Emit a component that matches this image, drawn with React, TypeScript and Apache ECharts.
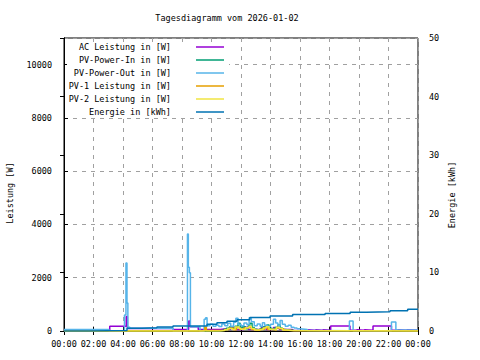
import React, { useEffect, useRef } from "react";
import * as echarts from "echarts";

const titleText = "Tagesdiagramm vom 2026-01-02";
const leftAxisName = "Leistung [W]";
const rightAxisName = "Energie [kWh]";
const seriesNames = [
  "AC Leistung in [W]",
  "PV-Power-In in [W]",
  "PV-Power-Out in [W]",
  "PV-1 Leistung in [W]",
  "PV-2 Leistung in [W]",
  "Energie in [kWh]",
];
const seriesColors = ["#9400d3", "#009e73", "#56b4e9", "#e69f00", "#f0e442", "#0072b2"];

// [hour, W]
const acPower: [number, number][] = [
  [0, 30], [0.4, 45], [0.5, 30], [0.9, 45], [1.0, 30], [1.4, 45], [1.5, 30], [1.9, 45], [2.0, 30],
  [2.4, 45], [2.5, 30], [3.1, 180], [4.15, 180], [4.22, 540], [4.3, 90], [7.4, 60],
  [8.45, 375], [8.55, 160], [9.1, 60], [10.0, 60], [10.6, 80], [11.0, 60], [11.3, 150], [11.5, 60],
  [12.2, 140], [12.5, 60], [13.4, 150], [13.7, 60], [14.2, 130], [14.6, 60], [15.5, 20],
  [16.0, 30], [16.5, 45], [16.6, 30], [17.0, 45], [17.1, 30], [17.5, 45], [17.6, 30],
  [18.08, 185], [19.39, 30], [19.8, 45], [19.9, 30], [20.3, 45], [20.4, 30],
  [20.95, 185], [22.2, 30], [22.6, 45], [22.7, 30], [23.2, 45], [23.3, 30], [24, 30],
];

const pvPowerIn: [number, number][] = [
  [0, 0], [10.5, 20], [10.8, 60], [11.0, 100], [11.2, 150], [11.4, 90], [11.6, 180], [11.8, 290],
  [11.95, 120], [12.1, 160], [12.3, 80], [12.5, 200], [12.6, 290], [12.75, 130], [12.9, 70],
  [13.1, 40], [13.3, 90], [13.5, 150], [13.75, 225], [13.9, 100], [14.1, 60], [14.3, 130],
  [14.5, 225], [14.65, 110], [14.8, 60], [15.0, 40], [15.3, 20], [15.6, 0], [24, 0],
];

const pvPowerOut: [number, number][] = [
  [0, 60], [3.05, 0], [4.1, 600], [4.2, 2550], [4.27, 1050], [4.33, 140], [4.47, 100],
  [7.4, 0], [8.37, 3640], [8.43, 2390], [8.5, 2190], [8.57, 160], [9.22, 0],
  [9.5, 440], [9.6, 500], [9.7, 200], [9.9, 250], [10.1, 180], [10.3, 220], [10.5, 170],
  [10.7, 260], [10.9, 200], [11.1, 290], [11.3, 180], [11.5, 330], [11.65, 480], [11.8, 250],
  [12.0, 200], [12.2, 300], [12.4, 230], [12.55, 500], [12.7, 350], [12.9, 200], [13.1, 260],
  [13.3, 180], [13.45, 310], [13.6, 220], [13.8, 170], [14.0, 250], [14.2, 440], [14.35, 300],
  [14.5, 200], [14.65, 390], [14.8, 250], [15.0, 180], [15.2, 220], [15.4, 140], [15.6, 110],
  [15.8, 80], [16.0, 60], [16.5, 20], [17.0, 10], [19.35, 375], [19.6, 10],
  [22.2, 340], [22.5, 40], [24, 40],
];

const pv1Power: [number, number][] = [
  [0, 0], [9.3, 15], [9.55, 140], [9.65, 15], [10.5, 30], [10.9, 60], [11.2, 100], [11.5, 50],
  [11.7, 130], [11.9, 70], [12.2, 110], [12.5, 140], [12.7, 60], [13.0, 30], [13.3, 70],
  [13.6, 120], [13.8, 60], [14.1, 40], [14.4, 110], [14.6, 80], [14.9, 30], [15.3, 10],
  [15.6, 0], [24, 0],
];

const pv2Power: [number, number][] = [
  [0, 0], [10.6, 20], [10.9, 50], [11.1, 90], [11.4, 60], [11.6, 150], [11.85, 100], [12.0, 70],
  [12.3, 120], [12.55, 180], [12.7, 90], [12.9, 40], [13.2, 60], [13.5, 110], [13.7, 160],
  [13.9, 70], [14.2, 50], [14.4, 140], [14.6, 100], [14.8, 40], [15.1, 20], [15.4, 0], [24, 0],
];

// [hour, kWh]
const energy: [number, number][] = [
  [0, 0], [1.63, 0.1], [4.27, 0.45], [5.29, 0.55], [6.3, 0.7], [7.39, 0.85], [9.7, 1.15],
  [10.37, 1.4], [11.05, 1.65], [11.73, 1.9], [12.6, 2.3], [13.97, 2.55], [15.5, 2.8],
  [17.7, 3.0], [19.4, 3.2], [20.5, 3.3], [22.1, 3.45], [23.3, 3.7], [24, 3.7],
];

const seriesData = [acPower, pvPowerIn, pvPowerOut, pv1Power, pv2Power, energy];

const FONT = "'DejaVu Sans Mono', monospace";
const FS = 8.5;

export default function App() {
  const ref = useRef<HTMLDivElement>(null);
  useEffect(() => {
    if (!ref.current) return;
    const chart = echarts.init(ref.current, undefined, { renderer: "svg" });
    const gridColor = "#a0a0a0";
    const legendGraphics: any[] = [
      {
        type: "rect",
        z: 10,
        shape: { x: 67, y: 42, width: 162, height: 76 },
        style: { fill: "#fff" },
      },
    ];
    seriesNames.forEach((n, i) => {
      const y = 47 + i * 13;
      legendGraphics.push({
        type: "text",
        z: 11,
        x: 171,
        y,
        style: { text: n, fill: "#000", fontFamily: FONT, fontSize: FS, align: "right", verticalAlign: "middle" },
      });
      legendGraphics.push({
        type: "line",
        z: 11,
        shape: { x1: 196, y1: y, x2: 224, y2: y },
        style: { stroke: seriesColors[i], lineWidth: 1.5 },
      });
    });
    const option: any = {
      animation: false,
      backgroundColor: "#fff",
      grid: { left: 64, right: 62, top: 38, bottom: 29, show: true, borderColor: "#000", borderWidth: 1 },
      xAxis: [
        {
          type: "value",
          min: 0,
          max: 24,
          interval: 2,
          axisLine: { show: true, lineStyle: { color: "#000" } },
          axisTick: { show: true, inside: true, length: 4, lineStyle: { color: "#000" } },
          axisLabel: {
            color: "#000",
            fontFamily: FONT,
            fontSize: FS,
            margin: 8,
            formatter: (v: number) => String(v % 24).padStart(2, "0") + ":00",
          },
          splitLine: { show: true, lineStyle: { color: gridColor, type: [4, 5], width: 1 } },
        },
        {
          type: "value",
          position: "top",
          min: 0,
          max: 24,
          interval: 2,
          axisLine: { show: true, lineStyle: { color: "#000" } },
          axisTick: { show: true, inside: true, length: 4, lineStyle: { color: "#000" } },
          axisLabel: { show: false },
          splitLine: { show: false },
        },
      ],
      yAxis: [
        {
          type: "value",
          min: 0,
          max: 11000,
          interval: 2000,
          axisLine: { show: true, lineStyle: { color: "#000" } },
          axisTick: { show: true, inside: true, length: 4, lineStyle: { color: "#000" } },
          axisLabel: {
            color: "#000",
            fontFamily: FONT,
            fontSize: FS,
            margin: 12,
            showMaxLabel: false,
            formatter: (v: number) => String(v),
          },
          splitLine: { show: true, lineStyle: { color: gridColor, type: [4, 5], width: 1 } },
        },
        {
          type: "value",
          min: 0,
          max: 50,
          interval: 10,
          position: "right",
          axisLine: { show: true, lineStyle: { color: "#000" } },
          axisTick: { show: true, inside: true, length: 4, lineStyle: { color: "#000" } },
          axisLabel: {
            color: "#000",
            fontFamily: FONT,
            fontSize: FS,
            margin: 11,
            formatter: (v: number) => String(v),
          },
          splitLine: { show: false },
        },
      ],
      series: seriesData.map((d, i) => ({
        name: seriesNames[i],
        type: "line",
        step: "end",
        data: d,
        yAxisIndex: i === 5 ? 1 : 0,
        xAxisIndex: 0,
        symbol: "none",
        lineStyle: { color: seriesColors[i], width: 1.5 },
        itemStyle: { color: seriesColors[i] },
      })),
      graphic: [
        {
          type: "text",
          x: 227,
          y: 18,
          style: { text: titleText, fill: "#000", fontFamily: FONT, fontSize: FS, align: "center", verticalAlign: "middle" },
        },
        {
          type: "text",
          x: 10,
          y: 193,
          rotation: Math.PI / 2,
          style: { text: leftAxisName, fill: "#000", fontFamily: FONT, fontSize: FS, align: "center", verticalAlign: "middle" },
        },
        {
          type: "text",
          x: 452,
          y: 195,
          rotation: Math.PI / 2,
          style: { text: rightAxisName, fill: "#000", fontFamily: FONT, fontSize: FS, align: "center", verticalAlign: "middle" },
        },
        ...legendGraphics,
      ],
    };
    chart.setOption(option);
    return () => chart.dispose();
  }, []);
  return (
    <div
      ref={ref}
      style={{ position: "fixed", left: 0, top: 0, width: 480, height: 360, background: "#fff" }}
    />
  );
}
